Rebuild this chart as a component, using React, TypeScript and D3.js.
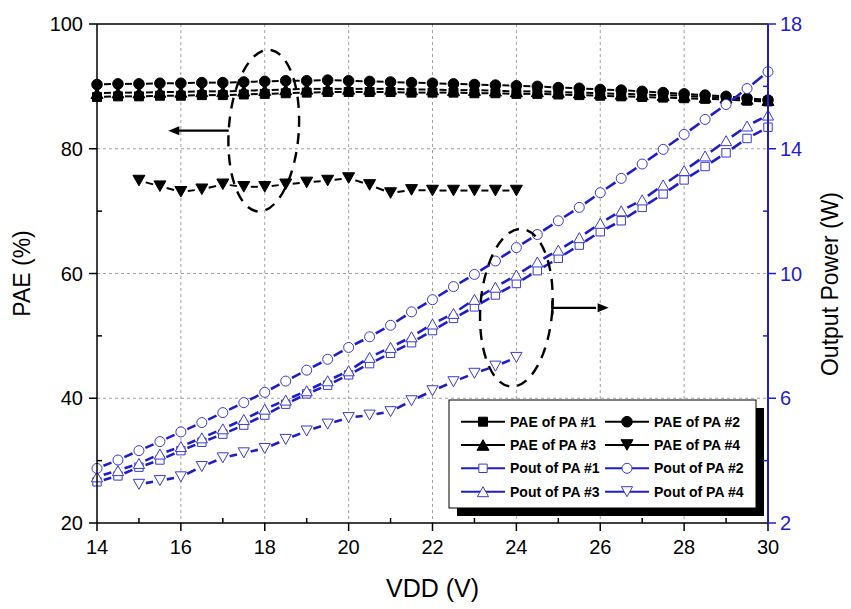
import React from 'react';
import * as d3 from 'd3';

// ---------- data ----------
const VDD = [14, 14.5, 15, 15.5, 16, 16.5, 17, 17.5, 18, 18.5, 19, 19.5, 20, 20.5, 21, 21.5, 22, 22.5, 23, 23.5, 24, 24.5, 25, 25.5, 26, 26.5, 27, 27.5, 28, 28.5, 29, 29.5, 30];
const VDD_PA4 = [15, 15.5, 16, 16.5, 17, 17.5, 18, 18.5, 19, 19.5, 20, 20.5, 21, 21.5, 22, 22.5, 23, 23.5, 24];

const PAE_PA1 = [88.3, 88.4, 88.4, 88.5, 88.5, 88.6, 88.6, 88.7, 88.8, 88.9, 89.0, 89.1, 89.1, 89.1, 89.1, 89.0, 89.0, 89.0, 88.9, 88.9, 88.8, 88.8, 88.7, 88.6, 88.5, 88.4, 88.3, 88.2, 88.1, 88.0, 87.9, 87.7, 87.6];
const PAE_PA2 = [90.3, 90.4, 90.4, 90.5, 90.5, 90.6, 90.6, 90.7, 90.8, 90.9, 90.9, 91.0, 90.9, 90.8, 90.7, 90.6, 90.5, 90.4, 90.3, 90.2, 90.1, 90.0, 89.8, 89.7, 89.5, 89.4, 89.2, 89.0, 88.8, 88.6, 88.4, 88.1, 87.8];
const PAE_PA3 = [88.9, 89.0, 89.0, 89.1, 89.1, 89.2, 89.2, 89.3, 89.4, 89.5, 89.6, 89.6, 89.6, 89.6, 89.6, 89.5, 89.5, 89.4, 89.4, 89.3, 89.2, 89.2, 89.1, 89.0, 88.9, 88.8, 88.7, 88.6, 88.5, 88.3, 88.2, 88.0, 87.8];
const PAE_PA4 = [74.9, 74.0, 73.1, 73.5, 74.3, 73.9, 73.9, 74.3, 74.6, 74.9, 75.3, 74.2, 72.9, 73.4, 73.3, 73.3, 73.3, 73.3, 73.3];

const POUT_PA1 = [3.32, 3.51, 3.79, 4.02, 4.32, 4.59, 4.85, 5.14, 5.46, 5.81, 6.14, 6.42, 6.75, 7.11, 7.44, 7.78, 8.17, 8.56, 8.93, 9.31, 9.68, 10.09, 10.49, 10.91, 11.34, 11.69, 12.12, 12.55, 13.0, 13.43, 13.87, 14.33, 14.69];
const POUT_PA2 = [3.75, 4.02, 4.32, 4.61, 4.92, 5.22, 5.54, 5.86, 6.19, 6.55, 6.9, 7.25, 7.63, 7.97, 8.34, 8.77, 9.16, 9.58, 9.97, 10.4, 10.83, 11.25, 11.69, 12.12, 12.59, 13.05, 13.51, 13.98, 14.46, 14.94, 15.42, 15.93, 16.47];
const POUT_PA3 = [3.48, 3.68, 3.91, 4.21, 4.45, 4.73, 5.02, 5.32, 5.65, 5.94, 6.24, 6.56, 6.88, 7.31, 7.63, 7.97, 8.38, 8.72, 9.17, 9.56, 9.95, 10.37, 10.75, 11.15, 11.61, 12.01, 12.36, 12.84, 13.3, 13.77, 14.26, 14.73, 15.08];
const POUT_PA4 = [3.24, 3.36, 3.48, 3.81, 4.09, 4.25, 4.39, 4.68, 4.95, 5.17, 5.38, 5.46, 5.57, 5.92, 6.24, 6.53, 6.8, 7.03, 7.31];

const X_TICKS = [14, 16, 18, 20, 22, 24, 26, 28, 30];
const X_MINOR = [15, 17, 19, 21, 23, 25, 27, 29];
const X_GRID = [16, 18, 20, 22, 24, 26, 28];
const PAE_TICKS = [20, 40, 60, 80, 100];
const PAE_MINOR = [30, 50, 70, 90];
const PAE_GRID = [40, 60, 80];
const POUT_TICKS = [2, 6, 10, 14, 18];
const POUT_MINOR = [4, 8, 12, 16];

const LEGEND_LABELS = ['PAE of PA #1', 'PAE of PA #2', 'PAE of PA #3', 'PAE of PA #4', 'Pout of PA #1', 'Pout of PA #2', 'Pout of PA #3', 'Pout of PA #4'];

const X_LABEL = 'VDD (V)';
const YL_LABEL = 'PAE (%)';
const YR_LABEL = 'Output Power (W)';

// ---------- styling ----------
const BLUE = '#1e1ec8';
const BLUE_M = '#3a3ad2';
const FONT = 'Arial, "Liberation Sans", sans-serif';

type Shape = 'square' | 'circle' | 'up' | 'down';

function markerPath(shape: Shape, cx: number, cy: number, big: boolean): string {
  if (shape === 'square') {
    const s = big ? 4.5 : 4.2;
    return `M${cx - s},${cy - s}H${cx + s}V${cy + s}H${cx - s}Z`;
  }
  if (shape === 'circle') {
    const r = big ? 5.3 : 5.0;
    return `M${cx - r},${cy}A${r},${r} 0 1,0 ${cx + r},${cy}A${r},${r} 0 1,0 ${cx - r},${cy}Z`;
  }
  const w = big ? 6 : 5.6;
  const h = big ? 5.3 : 5.0;
  if (shape === 'up') return `M${cx},${cy - h}L${cx + w},${cy + h}L${cx - w},${cy + h}Z`;
  return `M${cx},${cy + h}L${cx + w},${cy - h}L${cx - w},${cy - h}Z`;
}

export default function App() {
  const W = 851;
  const H = 609;
  const L = 97, R = 768, T = 24, B = 523;
  const x = d3.scaleLinear().domain([14, 30]).range([L, R]);
  const yL = d3.scaleLinear().domain([20, 100]).range([B, T]);
  const yR = d3.scaleLinear().domain([2, 18]).range([B, T]);

  const series = [
    { xs: VDD, ys: PAE_PA1, y: yL, shape: 'square' as Shape, filled: true },
    { xs: VDD, ys: PAE_PA3, y: yL, shape: 'up' as Shape, filled: true },
    { xs: VDD, ys: PAE_PA2, y: yL, shape: 'circle' as Shape, filled: true },
    { xs: VDD_PA4, ys: PAE_PA4, y: yL, shape: 'down' as Shape, filled: true },
    { xs: VDD, ys: POUT_PA1, y: yR, shape: 'square' as Shape, filled: false },
    { xs: VDD, ys: POUT_PA3, y: yR, shape: 'up' as Shape, filled: false },
    { xs: VDD, ys: POUT_PA2, y: yR, shape: 'circle' as Shape, filled: false },
    { xs: VDD_PA4, ys: POUT_PA4, y: yR, shape: 'down' as Shape, filled: false },
  ];

  const legendShapes: Shape[] = ['square', 'circle', 'up', 'down', 'square', 'circle', 'up', 'down'];

  const seg = (x1: number, y1: number, x2: number, y2: number, gap: number) => {
    const dx = x2 - x1, dy = y2 - y1;
    const len = Math.hypot(dx, dy);
    if (len <= 2 * gap) return null;
    const ux = dx / len, uy = dy / len;
    return [x1 + ux * gap, y1 + uy * gap, x2 - ux * gap, y2 - uy * gap];
  };

  // legend geometry
  const lgX = 449, lgY = 400, lgW = 307, lgH = 108;
  const rowY = [421.7, 445, 468.3, 491.7];
  const colX = [461, 605];

  // ellipse annotations
  const ell1 = { cx: x(18) - 1, cy: yL(82.9), rx: 35, ry: 81 };
  const ell2 = { cx: x(24), cy: yR(8.9), rx: 36, ry: 79 };
  const a1y = yL(82.9);
  const a2y = yR(8.9);

  return (
    <svg width={W} height={H} style={{ position: 'absolute', left: 0, top: 0, background: '#fff' }} fontFamily={FONT}>
      <rect x={0} y={0} width={W} height={H} fill="#fff" />
      {/* grid */}
      {X_GRID.map((v) => (
        <line key={'gx' + v} x1={x(v)} x2={x(v)} y1={T} y2={B} stroke="#a0a0a0" strokeWidth={1} strokeDasharray="3,3" />
      ))}
      {PAE_GRID.map((v) => (
        <line key={'gy' + v} x1={L} x2={R} y1={yL(v)} y2={yL(v)} stroke="#a0a0a0" strokeWidth={1} strokeDasharray="3,3" />
      ))}

      {/* series lines */}
      {series.map((s, si) => {
        const pts = s.xs.map((xv, i) => [x(xv), s.y(s.ys[i])]);
        const out: any[] = [];
        for (let i = 0; i < pts.length - 1; i++) {
          const g = seg(pts[i][0], pts[i][1], pts[i + 1][0], pts[i + 1][1], 7);
          if (g)
            out.push(
              <line key={si + '-' + i} x1={g[0]} y1={g[1]} x2={g[2]} y2={g[3]}
                stroke={s.filled ? '#000' : BLUE} strokeWidth={s.filled ? 2 : 2.6} />
            );
        }
        return <g key={'l' + si}>{out}</g>;
      })}
      {/* series markers */}
      {series.map((s, si) => (
        <g key={'m' + si}>
          {s.xs.map((xv, i) => (
            <path key={i} d={markerPath(s.shape, x(xv), s.y(s.ys[i]), s.filled)}
              fill={s.filled ? '#000' : '#fff'} stroke={s.filled ? '#000' : BLUE_M} strokeWidth={1} />
          ))}
        </g>
      ))}

      {/* ellipses and arrows */}
      <ellipse cx={ell1.cx} cy={ell1.cy} rx={ell1.rx} ry={ell1.ry} fill="none" stroke="#000" strokeWidth={2.4} strokeDasharray="11,8" transform={`rotate(4 ${ell1.cx} ${ell1.cy})`} />
      <line x1={ell1.cx - ell1.rx} y1={a1y} x2={x(15.95)} y2={a1y} stroke="#000" strokeWidth={2.2} />
      <path d={`M${x(15.7)},${a1y}l11,-4.5v9z`} fill="#000" />
      <ellipse cx={ell2.cx} cy={ell2.cy} rx={ell2.rx} ry={ell2.ry} fill="none" stroke="#000" strokeWidth={2.4} strokeDasharray="11,8" transform={`rotate(4 ${ell2.cx} ${ell2.cy})`} />
      <line x1={ell2.cx + ell2.rx} y1={a2y} x2={x(25.9)} y2={a2y} stroke="#000" strokeWidth={2.2} />
      <line x1={ell2.cx + ell2.rx} y1={a2y - 7} x2={ell2.cx + ell2.rx} y2={a2y + 7} stroke="#000" strokeWidth={2.2} />
      <path d={`M${x(26.2)},${a2y}l-11,-4.5v9z`} fill="#000" />

      {/* legend */}
      <rect x={lgX + 8} y={lgY + 8} width={lgW} height={lgH} fill="#000" />
      <rect x={lgX} y={lgY} width={lgW} height={lgH} fill="#fff" stroke="#000" strokeWidth={1} />
      {LEGEND_LABELS.map((lab, i) => {
        const row = Math.floor(i / 2);
        const col = i % 2;
        const x0 = colX[col];
        const cy = rowY[row];
        const filled = i < 4;
        const mx = x0 + 22;
        return (
          <g key={'lg' + i}>
            <line x1={x0} x2={x0 + 44} y1={cy} y2={cy} stroke={filled ? '#000' : BLUE} strokeWidth={2} />
            <path d={markerPath(legendShapes[i], mx, cy, filled)} fill={filled ? '#000' : '#fff'} stroke={filled ? '#000' : BLUE_M} strokeWidth={1} />
            <text x={x0 + 49} y={cy + 5} fontSize={14} fontWeight="bold" fill="#000">{lab}</text>
          </g>
        );
      })}

      {/* axes frame */}
      <line x1={L} x2={R} y1={T} y2={T} stroke="#000" strokeWidth={1.5} />
      <line x1={L} x2={R} y1={B} y2={B} stroke="#000" strokeWidth={1.5} />
      <line x1={L} x2={L} y1={T} y2={B} stroke="#000" strokeWidth={1.5} />
      <line x1={R} x2={R} y1={T} y2={B} stroke={BLUE} strokeWidth={2} />

      {/* bottom ticks */}
      {X_TICKS.map((v) => (
        <g key={'xt' + v}>
          <line x1={x(v)} x2={x(v)} y1={B} y2={B + 8} stroke="#000" strokeWidth={1.5} />
          <text x={x(v)} y={B + 31} fontSize={20} textAnchor="middle" fill="#000">{v}</text>
        </g>
      ))}
      {X_MINOR.map((v) => (
        <line key={'xm' + v} x1={x(v)} x2={x(v)} y1={B} y2={B - 5} stroke="#000" strokeWidth={1.5} />
      ))}
      {/* left ticks */}
      {PAE_TICKS.map((v) => (
        <g key={'yt' + v}>
          <line x1={L - 8} x2={L} y1={yL(v)} y2={yL(v)} stroke="#000" strokeWidth={1.5} />
          <text x={L - 14} y={yL(v) + 7} fontSize={20} textAnchor="end" fill="#000">{v}</text>
        </g>
      ))}
      {PAE_MINOR.map((v) => (
        <line key={'ym' + v} x1={L} x2={L + 5} y1={yL(v)} y2={yL(v)} stroke="#000" strokeWidth={1.5} />
      ))}
      {/* right ticks */}
      {POUT_TICKS.map((v) => (
        <g key={'rt' + v}>
          <line x1={R} x2={R + 8} y1={yR(v)} y2={yR(v)} stroke={BLUE} strokeWidth={1.5} />
          <text x={R + 12} y={yR(v) + 7} fontSize={20} textAnchor="start" fill={BLUE}>{v}</text>
        </g>
      ))}
      {POUT_MINOR.map((v) => (
        <line key={'rm' + v} x1={R - 5} x2={R} y1={yR(v)} y2={yR(v)} stroke={BLUE} strokeWidth={1.5} />
      ))}

      {/* axis titles */}
      <text x={(L + R) / 2} y={597} fontSize={25} textAnchor="middle" fill="#000">{X_LABEL}</text>
      <text transform={`translate(30,${(T + B) / 2}) rotate(-90)`} fontSize={23} textAnchor="middle" fill="#000">{YL_LABEL}</text>
      <text transform={`translate(838,284) rotate(-90)`} fontSize={23} textAnchor="middle" fill="#000">{YR_LABEL}</text>
    </svg>
  );
}
